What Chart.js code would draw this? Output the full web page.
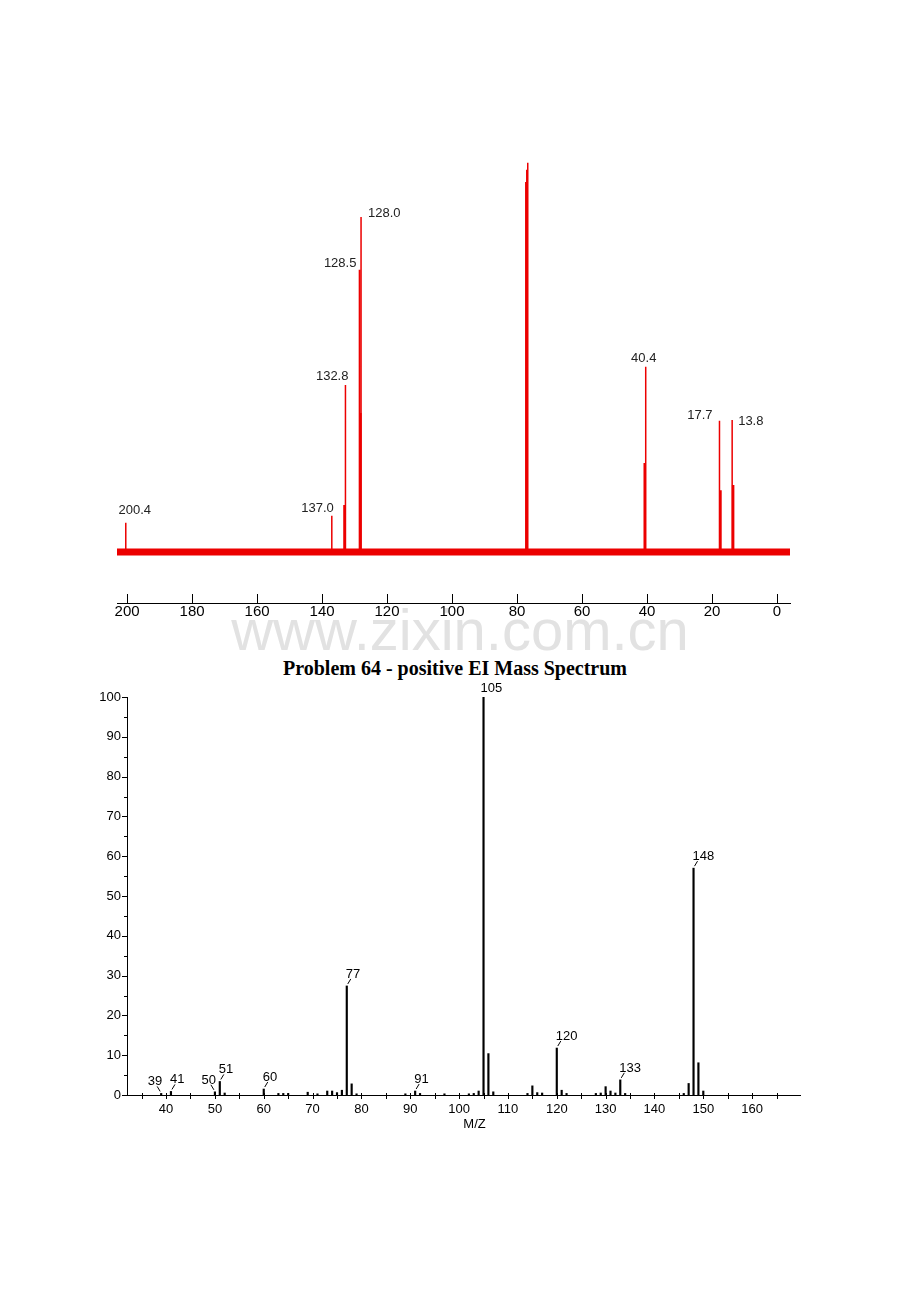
<!DOCTYPE html>
<html>
<head>
<meta charset="utf-8">
<script src="https://cdn.jsdelivr.net/npm/chart.js@4.4.1/dist/chart.umd.min.js"></script>
<style>
  body { margin: 0; background: #fff; }
  #page { position: relative; width: 920px; height: 1302px; overflow: hidden; }
  #watermark {
    position: absolute; left: 0; top: 601px; width: 920px;
    text-align: center; font: 58px/58px "Liberation Sans", Arial, sans-serif; color: #e2e2e2;
  }
  #title {
    position: absolute; left: 0; top: 658px; width: 910px;
    text-align: center; font: bold 20px/20px "Liberation Serif", "Times New Roman", serif; color: #000;
  }
  #nmr { position: absolute; left: 0; top: 0; }
  #ms { position: absolute; left: 0; top: 660px; }
</style>
</head>
<body>
<div id="page">
  <div id="watermark">www.zixin.com.cn</div>
  <div id="title">Problem 64 - positive EI Mass Spectrum</div>
  <canvas id="nmr" width="920" height="640"></canvas>
  <canvas id="ms" width="920" height="500"></canvas>
</div>
<script>
// 13C NMR peaks (ppm) and heights relative to the tallest line (CDCl3 at 77)
const nmrShifts = [200.4, 137.0, 132.8, 128.5, 128.0, 77.3, 77.0, 76.7, 40.4, 17.7, 13.8];
const nmrHeights = [7.5, 9.3, 42.9, 72.5, 86.1, 95.1, 98.2, 100, 47.6, 33.7, 33.9];
// shorter, thicker component next to some of the lines
const nmrShoulderShifts = [133.1, 128.2, 40.7, 17.4, 13.5];
const nmrShoulderHeights = [12.1, 35.7, 22.9, 15.9, 17.2];
const nmrLabelShifts = [200.4, 137.0, 132.8, 128.5, 128.0, 40.4, 17.7, 13.8];
const nmrRange = [-4, 203.1];

// EI mass spectrum: m/z and relative abundance
const msMz = [39, 41, 50, 51, 52, 60, 63, 64, 65, 69, 71, 73, 74, 75, 76, 77, 78, 79, 89, 91,
  92, 97, 102, 103, 104, 105, 106, 107, 114, 115, 116, 117, 120, 121, 122, 128, 129, 130, 131,
  132, 133, 134, 146, 147, 148, 149, 150];
const msIntensity = [0.4, 0.9, 0.8, 3.4, 0.5, 1.5, 0.4, 0.4, 0.4, 0.7, 0.3, 1.0, 1.0, 0.6, 1.2,
  27.4, 2.8, 0.3, 0.3, 1.0, 0.4, 0.3, 0.3, 0.4, 1.0, 100, 10.4, 0.8, 0.4, 2.3, 0.6, 0.5, 11.8,
  1.2, 0.4, 0.4, 0.5, 2.1, 1.0, 0.5, 3.8, 0.4, 0.4, 2.9, 57.0, 8.1, 1.0];
const msLabeled = [39, 41, 50, 51, 60, 77, 91, 105, 120, 133, 148];
const msRange = [32, 169.8];

const RED = 'rgb(236, 0, 0)';
const SANS = '"Liberation Sans", Arial, sans-serif';

// label placement next to the NMR peak tops: [dx, dy, align]
const nmrLabelPlace = [
  [9, -9, 'center'], [2, -4, 'right'], [3, -5, 'right'], [-3, -3, 'right'],
  [7, 0, 'left'], [-2, -5, 'center'], [-7, -2, 'right'], [6, 5, 'left']
];
// mass labels sitting to the left of the peak
const msLeftLabels = [39, 50];

function stickPoints(xs, ys) {
  const pts = [];
  xs.forEach((x, i) => {
    pts.push({ x: x, y: 0 }, { x: x, y: ys[i] }, { x: x, y: 0 });
  });
  return pts;
}

const nmrDecor = {
  id: 'nmrDecor',
  afterDraw(chart) {
    const ctx = chart.ctx;
    const xs = chart.scales.x, ys = chart.scales.y;
    ctx.save();
    // tick marks point up from the axis
    ctx.strokeStyle = '#000';
    ctx.lineWidth = 1;
    xs.ticks.forEach(t => {
      const px = Math.round(xs.getPixelForValue(t.value)) + 0.5;
      ctx.beginPath();
      ctx.moveTo(px, xs.top);
      ctx.lineTo(px, xs.top - 9);
      ctx.stroke();
    });
    // peak labels
    ctx.fillStyle = '#222';
    ctx.font = '13px ' + SANS;
    ctx.textBaseline = 'alphabetic';
    nmrLabelShifts.forEach((s, i) => {
      const h = nmrHeights[nmrShifts.indexOf(s)];
      const px = xs.getPixelForValue(s);
      const py = ys.getPixelForValue(h);
      const p = nmrLabelPlace[i];
      ctx.textAlign = p[2];
      ctx.fillText(s.toFixed(1), px + p[0], py + p[1]);
    });
    ctx.restore();
  }
};

new Chart(document.getElementById('nmr'), {
  type: 'scatter',
  data: {
    datasets: [
      {
        data: [{ x: nmrRange[0], y: 0 }, { x: nmrRange[1], y: 0 }],
        showLine: true, borderColor: RED, borderWidth: 7, pointRadius: 0
      },
      {
        data: stickPoints(nmrShoulderShifts, nmrShoulderHeights),
        showLine: true, borderColor: RED, borderWidth: 2.5, pointRadius: 0
      },
      {
        data: stickPoints(nmrShifts, nmrHeights),
        showLine: true, borderColor: RED, borderWidth: 1.5, pointRadius: 0
      }
    ]
  },
  options: {
    responsive: false,
    animation: false,
    layout: { padding: { left: 117, right: 130, top: 150, bottom: 0 } },
    plugins: { legend: { display: false }, tooltip: { enabled: false } },
    scales: {
      x: {
        type: 'linear', reverse: true, min: nmrRange[0], max: nmrRange[1],
        grid: { display: false, drawTicks: false },
        border: { display: true, color: '#000', width: 1 },
        ticks: { stepSize: 20, includeBounds: false, color: '#000', padding: 0,
          font: { family: SANS, size: 15 } },
        afterFit(scale) { scale.height = 37; }
      },
      y: { display: false, min: -13.1, max: 103.3 }
    }
  },
  plugins: [nmrDecor]
});

const msDecor = {
  id: 'msDecor',
  afterDraw(chart) {
    const ctx = chart.ctx;
    const xs = chart.scales.x, ys = chart.scales.y;
    ctx.save();
    ctx.strokeStyle = '#000';
    ctx.lineWidth = 1;
    // y ticks: long at tens, short at fives
    for (let v = 0; v <= 100; v += 5) {
      const py = Math.round(ys.getPixelForValue(v)) + 0.5;
      const len = v % 10 === 0 ? 5 : 3;
      ctx.beginPath();
      ctx.moveTo(ys.right - len, py);
      ctx.lineTo(ys.right, py);
      ctx.stroke();
    }
    // x ticks every 5
    for (let v = 35; v <= 165; v += 5) {
      const px = Math.round(xs.getPixelForValue(v)) + 0.5;
      ctx.beginPath();
      ctx.moveTo(px, xs.top - 2);
      ctx.lineTo(px, xs.top + 4);
      ctx.stroke();
    }
    // axis title
    ctx.fillStyle = '#000';
    ctx.font = '13px ' + SANS;
    ctx.textAlign = 'center';
    ctx.textBaseline = 'alphabetic';
    ctx.fillText('M/Z', (chart.chartArea.left + chart.chartArea.right) / 2 + 11, xs.top + 33);
    // peak labels with small leader strokes
    msLabeled.forEach(m => {
      const v = msIntensity[msMz.indexOf(m)];
      const px = xs.getPixelForValue(m);
      const py = ys.getPixelForValue(v);
      const left = msLeftLabels.includes(m);
      const dir = left ? -1 : 1;
      if (m !== 105) {
        ctx.beginPath();
        ctx.moveTo(px + dir * 1, py - 2);
        ctx.lineTo(px + dir * 4, py - 7);
        ctx.stroke();
      }
      ctx.textAlign = left ? 'right' : 'left';
      if (m === 105) ctx.fillText(String(m), px - 3, py - 5);
      else ctx.fillText(String(m), left ? px + 1 : px - 1, py - 8);
    });
    ctx.restore();
  }
};

new Chart(document.getElementById('ms'), {
  type: 'bar',
  data: {
    datasets: [{
      data: msMz.map((m, i) => ({ x: m, y: msIntensity[i] })),
      backgroundColor: '#000', borderWidth: 0, barThickness: 1.5, grouped: false
    }]
  },
  options: {
    responsive: false,
    animation: false,
    layout: { padding: { left: 0, right: 120, top: 37, bottom: 0 } },
    plugins: { legend: { display: false }, tooltip: { enabled: false } },
    scales: {
      x: {
        type: 'linear', min: msRange[0], max: msRange[1], offset: false,
        grid: { display: false, drawTicks: false },
        border: { display: true, color: '#000', width: 1 },
        ticks: { stepSize: 10, includeBounds: false, color: '#000', padding: 7,
          font: { family: SANS, size: 13 } },
        afterFit(scale) { scale.height = 65; }
      },
      y: {
        min: 0, max: 100,
        grid: { display: false, drawTicks: false },
        border: { display: true, color: '#000', width: 1 },
        ticks: { stepSize: 10, color: '#000', padding: 6,
          font: { family: SANS, size: 13 } },
        afterFit(scale) { scale.width = 127; }
      }
    }
  },
  plugins: [msDecor]
});
</script>
</body>
</html>
